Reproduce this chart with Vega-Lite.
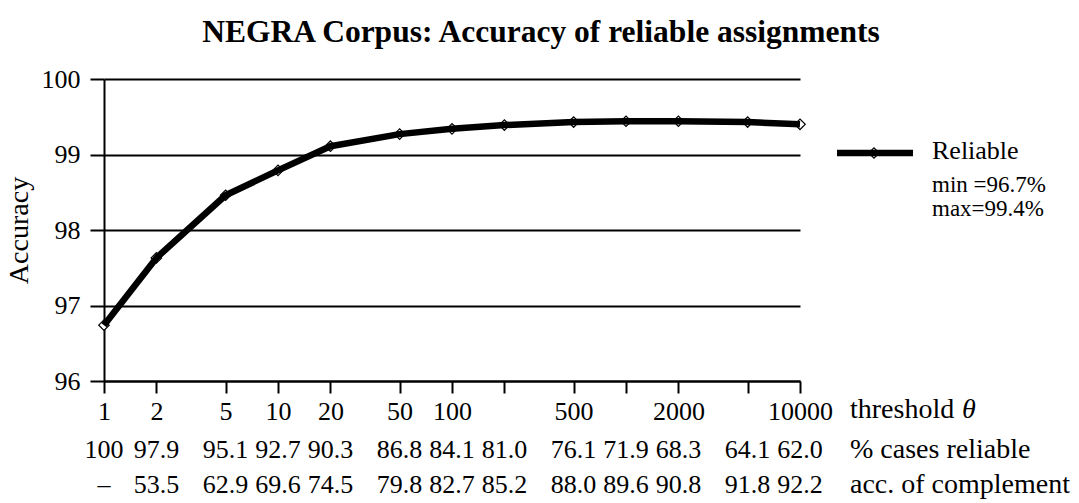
{
  "$schema": "https://vega.github.io/schema/vega-lite/v6.json",
  "autosize": {"type": "none"},
  "padding": {"left": 104, "top": 79, "right": 279, "bottom": 122},
  "width": 696,
  "height": 302,
  "background": "white",
  "title": {
    "text": "NEGRA Corpus: Accuracy of reliable assignments",
    "font": "Liberation Serif",
    "fontSize": 31.5,
    "fontWeight": "bold",
    "color": "black",
    "anchor": "middle",
    "dx": 89,
    "offset": 18
  },
  "config": {
    "view": {"stroke": null},
    "font": "Liberation Serif",
    "axis": {
      "domainColor": "black",
      "domainWidth": 2,
      "tickColor": "black",
      "tickWidth": 2,
      "labelColor": "black",
      "labelFont": "Liberation Serif",
      "labelFontSize": 26,
      "titleFont": "Liberation Serif",
      "titleColor": "black",
      "titleFontWeight": "normal"
    }
  },
  "data": {
    "values": [
      {"theta": 1, "acc": 96.74, "pct": "100", "comp": "–"},
      {"theta": 2, "acc": 97.63, "pct": "97.9", "comp": "53.5"},
      {"theta": 5, "acc": 98.46, "pct": "95.1", "comp": "62.9"},
      {"theta": 10, "acc": 98.79, "pct": "92.7", "comp": "69.6"},
      {"theta": 20, "acc": 99.11, "pct": "90.3", "comp": "74.5"},
      {"theta": 50, "acc": 99.27, "pct": "86.8", "comp": "79.8"},
      {"theta": 100, "acc": 99.34, "pct": "84.1", "comp": "82.7"},
      {"theta": 200, "acc": 99.39, "pct": "81.0", "comp": "85.2"},
      {"theta": 500, "acc": 99.43, "pct": "76.1", "comp": "88.0"},
      {"theta": 1000, "acc": 99.44, "pct": "71.9", "comp": "89.6"},
      {"theta": 2000, "acc": 99.44, "pct": "68.3", "comp": "90.8"},
      {"theta": 5000, "acc": 99.43, "pct": "64.1", "comp": "91.8"},
      {"theta": 10000, "acc": 99.40, "pct": "62.0", "comp": "92.2"}
    ]
  },
  "encoding": {
    "x": {
      "field": "theta",
      "type": "quantitative",
      "scale": {"type": "log", "domain": [1, 10000], "nice": false},
      "axis": {
        "values": [1, 2, 5, 10, 20, 50, 100, 200, 500, 1000, 2000, 5000, 10000],
        "labelExpr": "datum.value == 200 || datum.value == 1000 || datum.value == 5000 ? '' : format(datum.value, 'd')",
        "tickSize": 12,
        "labelPadding": 5,
        "labelOverlap": false,
        "labelFlush": false,
        "grid": false,
        "title": null
      }
    }
  },
  "layer": [
    {
      "mark": {"type": "point", "shape": "diamond", "size": 110, "filled": true, "fill": "white", "stroke": "black", "strokeWidth": 1.2, "opacity": 1},
      "encoding": {
        "y": {
          "field": "acc",
          "type": "quantitative",
          "scale": {"domain": [96, 100], "nice": false, "zero": false},
          "axis": {
            "values": [96, 97, 98, 99, 100],
            "format": "d",
            "grid": true,
            "gridColor": "black",
            "gridWidth": 2,
            "gridOpacity": 1,
            "tickSize": 14,
            "labelPadding": 10,
            "title": "Accuracy",
            "titleFontSize": 28,
            "titlePadding": 8
          }
        }
      }
    },
    {
      "mark": {"type": "line", "color": "black", "strokeWidth": 6.5, "interpolate": "linear", "strokeJoin": "round"},
      "encoding": {"y": {"field": "acc", "type": "quantitative"}}
    },
    {
      "mark": {"type": "text", "fontSize": 26, "baseline": "middle", "align": "center", "color": "black"},
      "encoding": {"y": {"datum": 95.08}, "text": {"field": "pct"}}
    },
    {
      "mark": {"type": "text", "fontSize": 26, "baseline": "middle", "align": "center", "color": "black"},
      "encoding": {"y": {"datum": 94.62}, "text": {"field": "comp"}}
    },
    {
      "transform": [{"filter": "datum.theta == 10000"}],
      "layer": [
        {
          "mark": {"type": "text", "text": "threshold", "fontSize": 28, "baseline": "middle", "align": "left", "dx": 50, "color": "black"},
          "encoding": {"y": {"datum": 95.616}}
        },
        {
          "mark": {"type": "text", "text": "θ", "fontSize": 28, "fontStyle": "italic", "baseline": "middle", "align": "left", "dx": 162, "color": "black"},
          "encoding": {"y": {"datum": 95.616}}
        },
        {
          "mark": {"type": "text", "text": "% cases reliable", "fontSize": 28, "baseline": "middle", "align": "left", "dx": 50, "color": "black"},
          "encoding": {"y": {"datum": 95.08}}
        },
        {
          "mark": {"type": "text", "text": "acc. of complement", "fontSize": 28, "baseline": "middle", "align": "left", "dx": 50, "color": "black"},
          "encoding": {"y": {"datum": 94.62}}
        },
        {
          "mark": {"type": "point", "shape": "diamond", "size": 110, "filled": true, "fill": "white", "stroke": "black", "strokeWidth": 1.2, "opacity": 1, "xOffset": 74},
          "encoding": {"y": {"datum": 99.02}}
        },
        {
          "mark": {"type": "rule", "color": "black", "strokeWidth": 6.5, "xOffset": 37, "x2Offset": 113},
          "encoding": {"x2": {"field": "theta"}, "y": {"datum": 99.02}}
        },
        {
          "mark": {"type": "text", "text": "Reliable", "fontSize": 26, "baseline": "alphabetic", "align": "left", "dx": 132, "color": "black"},
          "encoding": {"y": {"datum": 98.94}}
        },
        {
          "mark": {"type": "text", "text": "min =96.7%", "fontSize": 23, "baseline": "alphabetic", "align": "left", "dx": 132, "color": "black"},
          "encoding": {"y": {"datum": 98.5}}
        },
        {
          "mark": {"type": "text", "text": "max=99.4%", "fontSize": 23, "baseline": "alphabetic", "align": "left", "dx": 132, "color": "black"},
          "encoding": {"y": {"datum": 98.18}}
        }
      ]
    }
  ]
}
